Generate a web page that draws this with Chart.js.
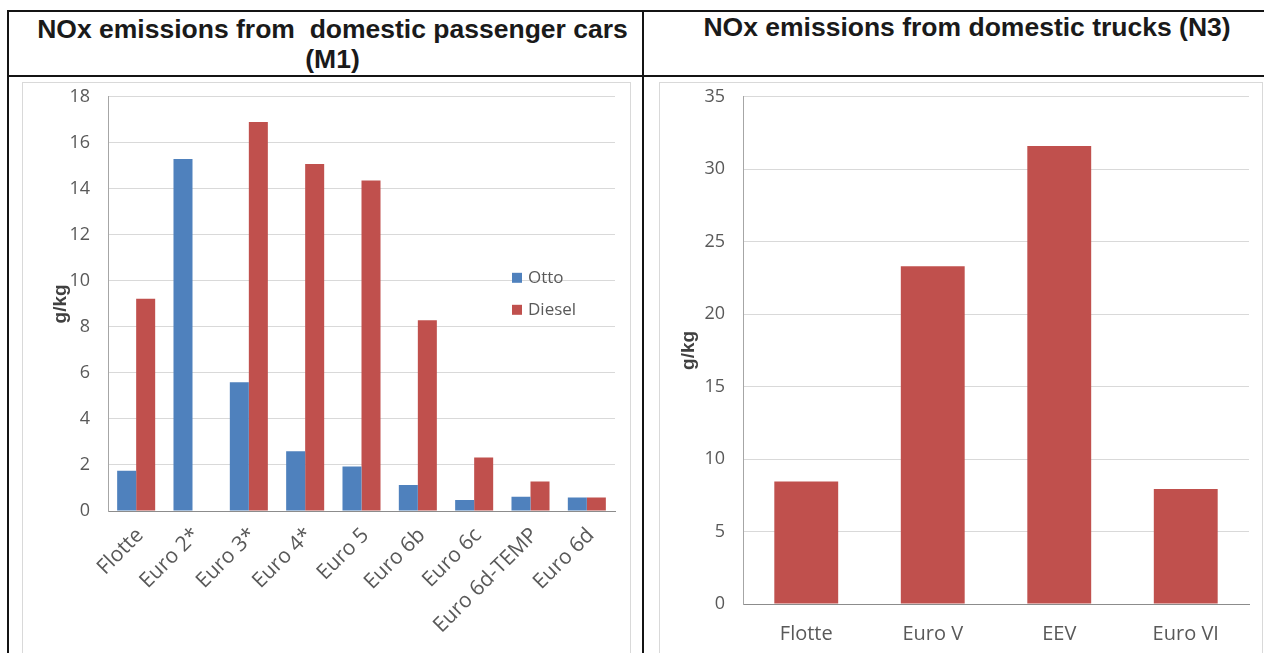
<!DOCTYPE html>
<html><head><meta charset="utf-8">
<script src="https://cdn.jsdelivr.net/npm/chart.js@4.4.1/dist/chart.umd.min.js"></script>
<style>
html,body{margin:0;padding:0;background:#fff;width:1264px;height:653px;overflow:hidden;position:relative;}
.line{position:absolute;background:#141414;}
.title{position:absolute;font-family:"Liberation Sans",Arial,sans-serif;font-weight:bold;font-size:26.5px;line-height:30px;color:#1a1a1a;text-align:center;white-space:nowrap;}
.box{position:absolute;border:1px solid #d9d9d9;box-sizing:border-box;}
canvas{position:absolute;}
</style></head><body>
<div class="line" style="left:7px;top:10px;width:1257px;height:2px"></div>
<div class="line" style="left:7px;top:75px;width:1257px;height:2px"></div>
<div class="line" style="left:7px;top:10px;width:2px;height:643px"></div>
<div class="line" style="left:642px;top:10px;width:2px;height:643px"></div>
<div class="title" style="left:16px;top:14px;width:633px">NOx emissions from&nbsp; domestic passenger cars<br>(M1)</div>
<div class="title" style="left:645px;top:12px;width:644px">NOx emissions from domestic trucks (N3)</div>
<div class="box" style="left:22px;top:82px;width:609px;height:590px"></div>
<div class="box" style="left:659px;top:82px;width:604px;height:590px"></div>
<canvas id="c1" width="608" height="585" style="left:22px;top:68px"></canvas>
<canvas id="c2" width="603" height="585" style="left:659px;top:68px"></canvas>
<script>
// ---- data ----
const carCategories = ['Flotte','Euro 2*','Euro 3*','Euro 4*','Euro 5','Euro 6b','Euro 6c','Euro 6d-TEMP','Euro 6d'];
const ottoValues   = [1.75, 15.3, 5.6, 2.6, 1.93, 1.13, 0.48, 0.62, 0.59];
const dieselValues = [9.22, null, 16.9, 15.08, 14.36, 8.29, 2.32, 1.28, 0.59];
const carSeriesNames = ['Otto','Diesel'];
const carYMax = 18, carYStep = 2;

const truckCategories = ['Flotte','Euro V','EEV','Euro VI'];
const truckValues = [8.46, 23.3, 31.6, 7.93];
const truckYMax = 35, truckYStep = 5;

const yTitle = 'g/kg';

// ---- styles ----
const BLUE = '#4f81bd', RED = '#c0504d';
const TXT = '#595959', GRID = '#d9d9d9';
const FONT = '"Open Sans", sans-serif';
const TFONT = '"Liberation Sans", Arial, sans-serif';

const insideLegend = {
  id: 'insideLegend',
  afterDraw(chart, args, opts) {
    if (!opts || !opts.show) return;
    const ctx = chart.ctx, a = chart.chartArea;
    ctx.save();
    ctx.font = '17px ' + FONT;
    ctx.textBaseline = 'middle';
    ctx.textAlign = 'left';
    chart.data.datasets.forEach((ds, i) => {
      const y = a.top + opts.y + i * opts.gap;
      ctx.fillStyle = ds.backgroundColor;
      ctx.fillRect(a.left + opts.x, y - 5, 10, 10);
      ctx.fillStyle = TXT;
      ctx.fillText(ds.label, a.left + opts.x + 16, y);
    });
    ctx.restore();
  }
};

new Chart(document.getElementById('c1'), {
  type: 'bar',
  data: {
    labels: carCategories,
    datasets: [
      {label: carSeriesNames[0], data: ottoValues, backgroundColor: BLUE},
      {label: carSeriesNames[1], data: dieselValues, backgroundColor: RED}
    ]
  },
  options: {
    responsive: false, animation: false,
    categoryPercentage: 0.675, barPercentage: 1.0,
    layout: {padding: {top: 0, right: 15, left: 0, bottom: 0}},
    plugins: {legend: {display: false}, tooltip: {enabled: false},
      insideLegend: {show: true, x: 404, y: 181, gap: 32}},
    scales: {
      x: {
        grid: {display: false},
        border: {display: true, color: '#8c8c8c', width: 1},
        ticks: {color: TXT, font: {family: FONT, size: 21}, maxRotation: 45, minRotation: 45, padding: 4, labelOffset: 4, autoSkip: false},
        afterFit(s) { s.height = 142; }
      },
      y: {
        min: 0, max: carYMax,
        grid: {color: GRID, drawTicks: false},
        border: {display: true, color: '#a6a6a6', width: 1},
        ticks: {stepSize: carYStep, color: TXT, font: {family: FONT, size: 18}, padding: 18},
        title: {display: true, text: yTitle, color: '#404040', font: {family: TFONT, size: 19, weight: 'bold'}, padding: {top: 27, bottom: 0}},
        afterFit(s) { s.width = 86; }
      }
    }
  },
  plugins: [insideLegend]
});

new Chart(document.getElementById('c2'), {
  type: 'bar',
  data: {
    labels: truckCategories,
    datasets: [{label: 'NOx', data: truckValues, backgroundColor: RED}]
  },
  options: {
    responsive: false, animation: false,
    categoryPercentage: 1.0, barPercentage: 0.505,
    layout: {padding: {top: 0, right: 13, left: 0, bottom: 0}},
    plugins: {legend: {display: false}, tooltip: {enabled: false}},
    scales: {
      x: {
        grid: {display: false},
        border: {display: true, color: '#8c8c8c', width: 1},
        ticks: {color: TXT, font: {family: FONT, size: 20}, maxRotation: 0, minRotation: 0, padding: 10},
        afterFit(s) { s.height = 49; }
      },
      y: {
        min: 0, max: truckYMax,
        grid: {color: GRID, drawTicks: false},
        border: {display: true, color: '#a6a6a6', width: 1},
        ticks: {stepSize: truckYStep, color: TXT, font: {family: FONT, size: 18}, padding: 18},
        title: {display: true, text: yTitle, color: '#404040', font: {family: TFONT, size: 19, weight: 'bold'}, padding: {top: 18, bottom: 0}},
        afterFit(s) { s.width = 84; }
      }
    }
  }
});
</script>
</body></html>
